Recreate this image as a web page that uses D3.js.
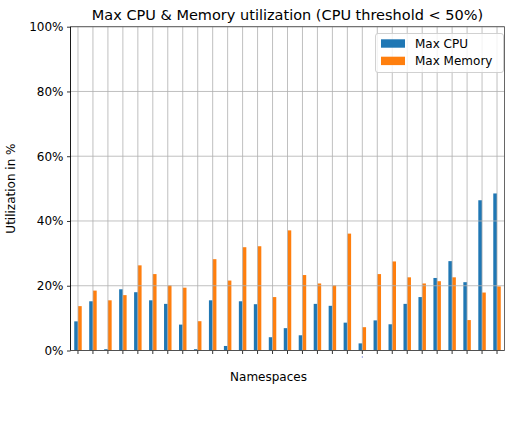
<!DOCTYPE html>
<html><head><meta charset="utf-8">
<script src="https://cdn.jsdelivr.net/npm/d3@7"></script>
<style>body{margin:0;background:#fff}svg{display:block}text{font-family:"DejaVu Sans",sans-serif;fill:#000}</style>
</head><body>
<script>
const categories = d3.range(1, 30).map(i => "ns" + i);
const maxCPU = [9.0,15.2,0.4,18.9,18.0,15.5,14.4,8.0,0.4,15.5,1.4,15.2,14.3,4.1,6.9,4.7,14.4,13.8,8.6,2.2,9.3,8.1,14.4,16.5,22.4,27.6,21.1,46.4,48.5];
const maxMem = [13.7,18.5,15.5,17.1,26.3,23.6,20.1,19.4,9.05,28.2,21.6,31.9,32.2,16.5,37.1,23.3,20.7,20.1,36.1,7.2,23.6,27.5,22.6,20.7,21.4,22.6,9.4,17.9,19.8];
const yTicks = [0,20,40,60,80,100];
const seriesNames = ["Max CPU","Max Memory"];
const colors = ["#1f77b4","#ff7f0e"];
const markedCategory = "ns20";

const W=527,H=446, L=70.5, R=504.5, T=26.7, B=350.5;
const FS="12px";
const svg=d3.select("body").append("svg").attr("width",W).attr("height",H);
const x=d3.scaleBand().domain(categories).range([L,R]).paddingInner(0).paddingOuter(0);
const y=d3.scaleLinear().domain([0,100]).range([B,T]);
const bw=x.bandwidth()*0.25;
const cx=d=>x(d)+x.bandwidth()/2;

// bars
const series=[maxCPU,maxMem];
series.forEach((vals,si)=>{
  svg.append("g").selectAll("rect").data(categories).join("rect")
    .attr("x",d=>cx(d)+(si===0?-bw:0)).attr("width",bw)
    .attr("y",(d,i)=>y(vals[i])).attr("height",(d,i)=>B-y(vals[i]))
    .attr("fill",colors[si]);
});
// grid
const g=svg.append("g").attr("stroke","#b0b0b0").attr("stroke-width",0.8);
g.selectAll(".v").data(categories).join("line").attr("x1",cx).attr("x2",cx).attr("y1",T).attr("y2",B);
g.selectAll(".h").data(yTicks).join("line").attr("x1",L).attr("x2",R).attr("y1",d=>y(d)).attr("y2",d=>y(d));

// axes
const xa=svg.append("g").attr("transform",`translate(0,${B})`).call(d3.axisBottom(x).tickSize(3.5).tickFormat(""));
xa.select(".domain").remove();
xa.selectAll("line").attr("stroke","#000").attr("stroke-width",0.8);
// tiny tick label mark
svg.append("rect").attr("x",cx(markedCategory)-0.5).attr("y",B+6).attr("width",1).attr("height",1).attr("fill","#4455cc");

const ya=svg.append("g").attr("transform",`translate(${L},0)`).call(d3.axisLeft(y).tickValues(yTicks).tickSize(3.5).tickPadding(3.5).tickFormat(d=>d+"%"));
ya.select(".domain").remove();
ya.selectAll("line").attr("stroke","#000").attr("stroke-width",0.8);
ya.selectAll("text").style("font-size",FS).style("font-family","DejaVu Sans").attr("fill","#000");

// spines
svg.append("line").attr("x1",L).attr("x2",R).attr("y1",T).attr("y2",T).attr("stroke","#555").attr("stroke-width",0.9);
svg.append("line").attr("x1",R).attr("x2",R).attr("y1",T).attr("y2",B).attr("stroke","#555").attr("stroke-width",0.9);
svg.append("line").attr("x1",L).attr("x2",R).attr("y1",B).attr("y2",B).attr("stroke","#444").attr("stroke-width",0.9);
svg.append("line").attr("x1",L).attr("x2",L).attr("y1",T).attr("y2",B).attr("stroke","#000").attr("stroke-width",0.9);

// title & labels
svg.append("text").attr("x",(L+R)/2).attr("y",20).attr("text-anchor","middle").style("font-size","14.5px").text("Max CPU & Memory utilization (CPU threshold < 50%)");
svg.append("text").attr("x",268.5).attr("y",380.5).attr("text-anchor","middle").style("font-size",FS).text("Namespaces");
svg.append("text").attr("transform",`translate(14.5,${(T+B)/2}) rotate(-90)`).attr("text-anchor","middle").style("font-size",FS).text("Utilization in %");

// legend
const lg=svg.append("g");
lg.append("rect").attr("x",375.5).attr("y",33.5).attr("width",128).attr("height",39).attr("rx",2.5)
  .attr("fill","#fff").attr("fill-opacity",0.8).attr("stroke","#ccc").attr("stroke-width",0.9);
seriesNames.forEach((n,i)=>{
  lg.append("rect").attr("x",381).attr("y",39.3+i*17.4).attr("width",24).attr("height",8.4).attr("fill",colors[i]);
  lg.append("text").attr("x",415).attr("y",47.8+i*17.4).style("font-size",FS).text(n);
});
</script>
</body></html>
